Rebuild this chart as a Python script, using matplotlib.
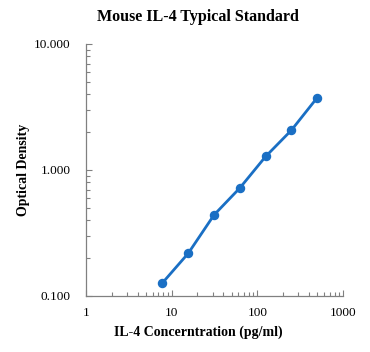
import matplotlib
matplotlib.use("Agg")
import matplotlib.pyplot as plt
from matplotlib.ticker import FixedLocator, NullFormatter, LogLocator

conc = [7.8, 15.6, 31.25, 62.5, 125, 250, 500]
od = [0.127, 0.218, 0.44, 0.72, 1.28, 2.07, 3.75]
xticks = [1, 10, 100, 1000]
xticklabels = ["1", "10", "100", "1000"]
yticks = [0.1, 1, 10]
yticklabels = ["0.100", "1.000", "10.000"]

plt.rcParams['font.family'] = ['Liberation Serif', 'DejaVu Serif']
fig = plt.figure(figsize=(3.70, 3.52), dpi=100)
ax = fig.add_axes([86/370, 1-296/352, (343-86)/370, (296-44)/352])
color = '#1a6fc4'
ax.plot(conc, od, '-', color=color, lw=2.0, marker='o', ms=5.8, mfc=color, mec=color)
ax.set_xscale('log')
ax.set_yscale('log')
ax.set_xlim(1, 1000)
ax.set_ylim(0.1, 10)
ax.xaxis.set_major_locator(FixedLocator(xticks))
ax.set_xticklabels(xticklabels)
ax.yaxis.set_major_locator(FixedLocator(yticks))
ax.set_yticklabels(yticklabels)
ax.xaxis.set_minor_locator(LogLocator(base=10, subs=range(2, 10)))
ax.yaxis.set_minor_locator(LogLocator(base=10, subs=range(2, 10)))
ax.xaxis.set_minor_formatter(NullFormatter())
ax.yaxis.set_minor_formatter(NullFormatter())
for s in ['top', 'right']:
    ax.spines[s].set_visible(False)
for s in ['left', 'bottom']:
    ax.spines[s].set_color('#808080')
    ax.spines[s].set_linewidth(0.9)
ax.tick_params(which='both', direction='in', color='#808080', width=0.8, labelsize=9.5)
ax.tick_params(axis='x', pad=8)
ax.tick_params(axis='y', pad=11)
ax.tick_params(which='major', length=4)
ax.tick_params(which='minor', length=3)
fig.text(198/370, 1-17/352, "Mouse IL-4 Typical Standard", ha='center', va='center',
         fontsize=11.5, fontweight='bold')
fig.text(198/370, 1-332/352, "IL-4 Concerntration (pg/ml)", ha='center', va='center',
         fontsize=10, fontweight='bold')
fig.text(24/370, 1-170/352, "Optical Density", ha='center', va='center',
         fontsize=10, fontweight='bold', rotation=90)
fig.savefig("out.png", dpi=100)
